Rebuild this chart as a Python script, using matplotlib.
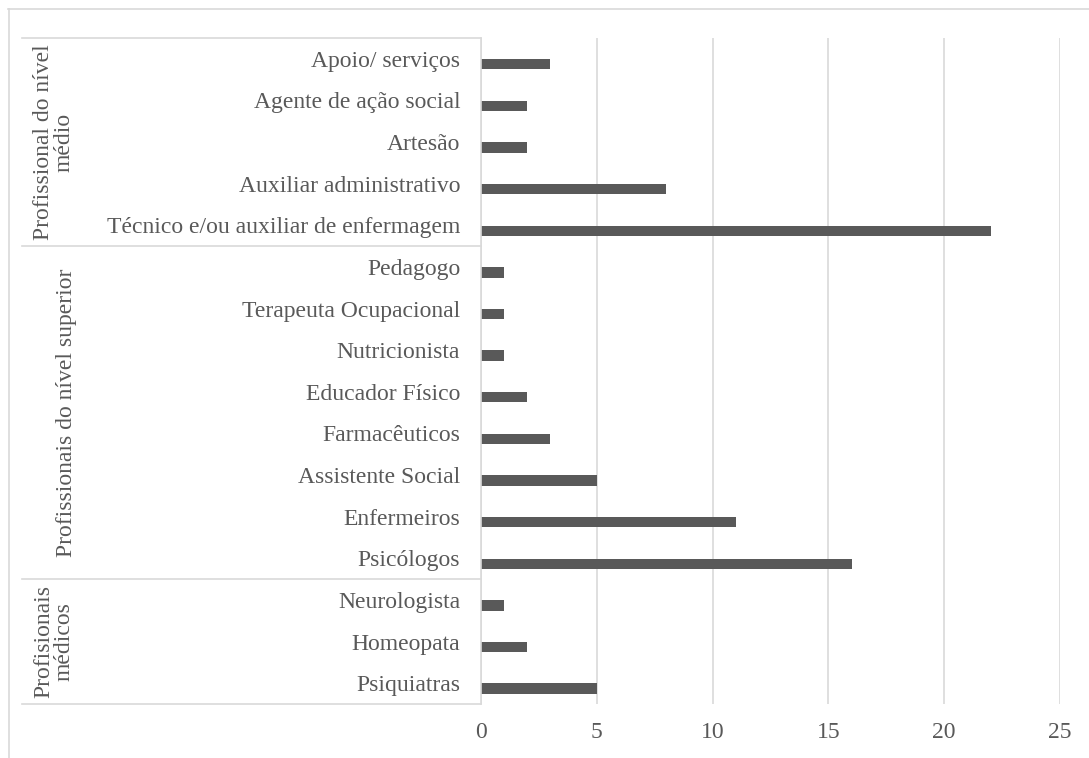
import matplotlib.pyplot as plt
from matplotlib.lines import Line2D

plt.rcParams['font.family'] = ['Liberation Serif', 'DejaVu Serif']

# Categories listed bottom to top
categories = [
    "Psiquiatras", "Homeopata", "Neurologista",
    "Psicólogos", "Enfermeiros", "Assistente Social", "Farmacêuticos",
    "Educador Físico", "Nutricionista", "Terapeuta Ocupacional", "Pedagogo",
    "Técnico e/ou auxiliar de enfermagem", "Auxiliar administrativo",
    "Artesão", "Agente de ação social", "Apoio/ serviços",
]
values = [5, 2, 1, 16, 11, 5, 3, 2, 1, 1, 1, 22, 8, 2, 2, 3]

group_names = ["Profisionais\nmédicos", "Profissionais do nível superior",
               "Profissional do nível\nmédio"]
group_sizes = [3, 8, 5]

text_color = "#595959"
grid_color = "#d9d9d9"
bar_color = "#595959"
fsize = 17

fig = plt.figure(figsize=(10.89, 7.58), dpi=100)
ax = fig.add_axes([481 / 1089, 1 - 704 / 758, 579 / 1089, 666 / 758])

y = list(range(len(categories)))
# bars sit a little below the label centre, as in Excel's rendering
ax.barh([v - 0.13 for v in y], values, height=0.25, color=bar_color)

ax.set_xlim(0, 25)
ax.set_ylim(-0.5, len(categories) - 0.5)
ax.set_xticks(range(0, 26, 5))
ax.set_yticks(y)
ax.set_yticklabels(categories)
ax.tick_params(axis='both', length=0, colors=text_color, labelsize=fsize)
ax.tick_params(axis='x', pad=13)
ax.tick_params(axis='y', pad=15)
ax.xaxis.grid(True, color=grid_color, linewidth=1.2)
ax.set_axisbelow(True)
for side in ['top', 'right', 'bottom']:
    ax.spines[side].set_visible(False)
ax.spines['left'].set_color(grid_color)
ax.spines['left'].set_linewidth(1.2)

# Group separators and group labels on the category axis
x_left = 22 / 1089
x_axis = 481 / 1089
ax_bottom = 1 - 704 / 758
row_h = (666 / 758) / len(categories)
start = 0
label_x = {0: 54 / 1089, 1: 67 / 1089, 2: 54 / 1089}
fig.add_artist(Line2D([x_left, x_axis], [ax_bottom, ax_bottom],
                      color=grid_color, linewidth=1.2))
for i, (name, size) in enumerate(zip(group_names, group_sizes)):
    top = ax_bottom + (start + size) * row_h
    fig.add_artist(Line2D([x_left, x_axis], [top, top],
                          color=grid_color, linewidth=1.2))
    mid = ax_bottom + (start + size / 2) * row_h
    fig.text(label_x[i], mid, name, rotation=90, ha='center', va='center',
             fontsize=fsize, color=text_color, linespacing=1.0,
             multialignment='center')
    start += size

# Chart area border (top and left edges)
fig.add_artist(Line2D([8 / 1089, 1], [1 - 8.5 / 758, 1 - 8.5 / 758],
                      color=grid_color, linewidth=1.2))
fig.add_artist(Line2D([8.5 / 1089, 8.5 / 1089], [0, 1 - 8.5 / 758],
                      color=grid_color, linewidth=1.2))

fig.savefig("out.png", dpi=100)
